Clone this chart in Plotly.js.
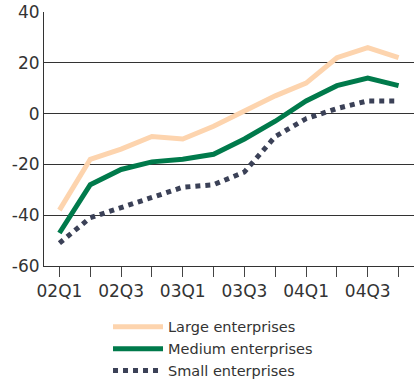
<!DOCTYPE html>
<html><head><meta charset="utf-8">
<script src="https://cdn.plot.ly/plotly-3.0.1.min.js"></script>
<style>html,body{margin:0;padding:0;background:#fff}#c{width:414px;height:381px}</style>
</head><body><div id="c"></div>
<script>
const quarters = ['02Q1','02Q2','02Q3','02Q4','03Q1','03Q2','03Q3','03Q4','04Q1','04Q2','04Q3','04Q4'];
const large = [-38,-18,-14,-9,-10,-5,1,7,12,22,26,22];
const medium = [-47,-28,-22,-19,-18,-16,-10,-3,5,11,14,11];
const small = [-51,-41,-37,-33,-29,-28,-23,-9,-2,2,5,5];
const seriesNames = ['Large enterprises','Medium enterprises','Small enterprises'];
const yTicks = [-60,-40,-20,0,20,40];
const yTickText = yTicks.map(v => String(v));
const xTickText = quarters.map((q,i)=> i%2===0 ? q : '');

const traces = [
  {x: quarters, y: large, name: seriesNames[0], mode:'lines', line:{color:'#fdd4ae', width:5}},
  {x: quarters, y: medium, name: seriesNames[1], mode:'lines', line:{color:'#007a4b', width:5}},
  {x: quarters, y: small, name: seriesNames[2], mode:'lines', line:{color:'#3b4157', width:5, dash:'dot'}}
];
const layout = {
  width:414, height:381,
  margin:{l:44, r:0, t:12, b:115},
  paper_bgcolor:'#fff', plot_bgcolor:'#fff',
  font:{family:'DejaVu Sans, Verdana, sans-serif', color:'#333', size:17},
  showlegend:true,
  legend:{x:0.173, xref:'paper', y:0.184, yref:'container', xanchor:'left', yanchor:'top', font:{size:14.5, color:'#333'}, itemwidth:50, tracegroupgap:0, bgcolor:'rgba(0,0,0,0)'},
  xaxis:{type:'category', range:[-0.5,11.5], tickmode:'array', tickvals:quarters, ticktext:xTickText,
    ticks:'outside', ticklen:10, tickcolor:'#444', showgrid:false, showline:true, linecolor:'#333', linewidth:1, zeroline:false,
    tickfont:{size:17, color:'#333'}},
  yaxis:{range:[-60,40], tickmode:'array', tickvals:yTicks, ticktext:yTickText, showgrid:true, gridcolor:'#333', gridwidth:1,
    zeroline:true, zerolinecolor:'#333', zerolinewidth:1, showline:true, linecolor:'#333', linewidth:1, ticks:'', ticklen:0,
    tickfont:{size:17, color:'#333'}}
};
Plotly.newPlot('c', traces, layout, {displayModeBar:false, staticPlot:true});
</script></body></html>
